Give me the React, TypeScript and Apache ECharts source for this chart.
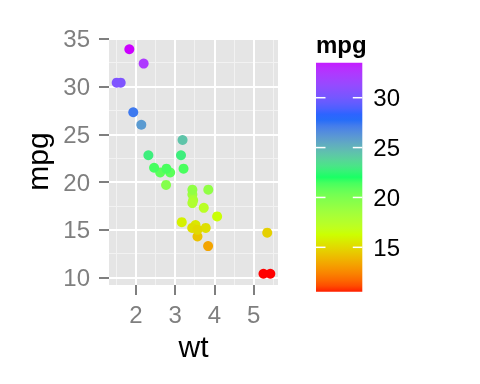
import React, { useEffect, useRef } from 'react';
import * as echarts from 'echarts';

// mtcars: weight (1000 lbs) and miles per gallon
const wt = [2.62, 2.875, 2.32, 3.215, 3.44, 3.46, 3.57, 3.19, 3.15, 3.44, 3.44, 4.07, 3.73, 3.78, 5.25, 5.424, 5.345, 2.2, 1.615, 1.835, 2.465, 3.52, 3.435, 3.84, 3.845, 1.935, 2.14, 1.513, 3.17, 2.77, 3.57, 2.78];
const mpg = [21.0, 21.0, 22.8, 21.4, 18.7, 18.1, 14.3, 24.4, 22.8, 19.2, 17.8, 16.4, 17.3, 15.2, 10.4, 10.4, 14.7, 32.4, 30.4, 33.9, 21.5, 15.5, 15.2, 13.3, 19.2, 27.3, 26.0, 30.4, 15.8, 19.7, 15.0, 21.4];

const xTicks = [2, 3, 4, 5];
const yTicks = [10, 15, 20, 25, 30, 35];
const xMinor = [1.5, 2.5, 3.5, 4.5, 5.5];
const yMinor = [12.5, 17.5, 22.5, 27.5, 32.5];
const legendTicks = [15, 20, 25, 30];
const rainbow5 = ['#FF0000', '#CCFF00', '#00FF66', '#0066FF', '#CC00FF'];

const FONT = '"Liberation Sans", Arial, Helvetica, sans-serif';

// ---- Lab colour interpolation (like scales::gradient_n_pal) ----
const WHITE = [0.95047, 1, 1.08883];
function hexToRgb(h: string) {
  const n = parseInt(h.slice(1), 16);
  return [(n >> 16) & 255, (n >> 8) & 255, n & 255];
}
function toLin(c: number) { c /= 255; return c <= 0.04045 ? c / 12.92 : Math.pow((c + 0.055) / 1.055, 2.4); }
function fromLin(c: number) {
  const v = c <= 0.0031308 ? 12.92 * c : 1.055 * Math.pow(c, 1 / 2.4) - 0.055;
  return Math.max(0, Math.min(255, Math.round(v * 255)));
}
function rgbToLab(rgb: number[]) {
  const [r, g, b] = rgb.map(toLin);
  const X = (0.4124 * r + 0.3576 * g + 0.1805 * b) / WHITE[0];
  const Y = (0.2126 * r + 0.7152 * g + 0.0722 * b) / WHITE[1];
  const Z = (0.0193 * r + 0.1192 * g + 0.9505 * b) / WHITE[2];
  const f = (t: number) => (t > 0.008856 ? Math.cbrt(t) : 7.787 * t + 16 / 116);
  const fx = f(X), fy = f(Y), fz = f(Z);
  return [116 * fy - 16, 500 * (fx - fy), 200 * (fy - fz)];
}
function labToHex(lab: number[]) {
  const fy = (lab[0] + 16) / 116;
  const fx = fy + lab[1] / 500;
  const fz = fy - lab[2] / 200;
  const inv = (f: number) => (f * f * f > 0.008856 ? f * f * f : (f - 16 / 116) / 7.787);
  const X = inv(fx) * WHITE[0], Y = inv(fy) * WHITE[1], Z = inv(fz) * WHITE[2];
  const r = 3.2406 * X - 1.5372 * Y - 0.4986 * Z;
  const g = -0.9689 * X + 1.8758 * Y + 0.0415 * Z;
  const b = 0.0557 * X - 0.204 * Y + 1.057 * Z;
  return '#' + [r, g, b].map((c) => fromLin(c).toString(16).padStart(2, '0')).join('');
}
const paletteLab = rainbow5.map((h) => rgbToLab(hexToRgb(h)));
function colorAtFrac(t: number) {
  t = Math.max(0, Math.min(1, t));
  const seg = Math.min(paletteLab.length - 2, Math.floor(t * (paletteLab.length - 1)));
  const u = t * (paletteLab.length - 1) - seg;
  const a = paletteLab[seg], b = paletteLab[seg + 1];
  return labToHex([0, 1, 2].map((i) => a[i] + (b[i] - a[i]) * u));
}

export default function App() {
  const ref = useRef<HTMLDivElement>(null);
  useEffect(() => {
    if (!ref.current) return;
    const chart = echarts.init(ref.current, undefined, { renderer: 'svg' });

    const mpgMin = Math.min(...mpg), mpgMax = Math.max(...mpg);
    const wtMin = Math.min(...wt), wtMax = Math.max(...wt);
    const xPad = (wtMax - wtMin) * 0.05, yPad = (mpgMax - mpgMin) * 0.05;
    const colorFor = (v: number) => colorAtFrac((v - mpgMin) / (mpgMax - mpgMin));

    const N = 40;
    const inRange = Array.from({ length: N + 1 }, (_, i) => colorAtFrac(i / N));

    const legMin = 10.55, legMax = 33.51;
    const stops = Array.from({ length: N + 1 }, (_, i) => {
      const v = legMax - (i / N) * (legMax - legMin);
      return { offset: i / N, color: colorFor(v) };
    });

    const points = wt.map((w, i) => [w, mpg[i]]);

    const gridLine = (vals: number[], key: 'xAxis' | 'yAxis', color: string, width: number) =>
      vals.map((v) => ({ [key]: v, lineStyle: { color, width, type: 'solid' } }));

    chart.setOption({
      animation: false,
      grid: [
        { left: 109, top: 38, width: 169, height: 247, show: true, backgroundColor: '#E5E5E5', borderWidth: 0, containLabel: false, outerBoundsMode: 'none' },
        { left: 316, top: 62.7, width: 46.3, height: 229, show: false, containLabel: false, outerBoundsMode: 'none' },
      ],
      xAxis: [
        {
          type: 'value', gridIndex: 0, min: wtMin - xPad, max: wtMax + xPad,
          axisLine: { show: false },
          axisTick: { show: true, length: 10, lineStyle: { color: '#7F7F7F', width: 2 }, customValues: xTicks },
          axisLabel: { customValues: xTicks, margin: 17, color: '#7F7F7F', fontSize: 24, fontFamily: FONT },
          splitLine: { show: false },
          name: 'wt', nameLocation: 'middle', nameGap: 46,
          nameTextStyle: { fontSize: 30, color: '#000', fontFamily: FONT },
        },
        { type: 'value', gridIndex: 1, min: 0, max: 1, show: false },
      ],
      yAxis: [
        {
          type: 'value', gridIndex: 0, min: mpgMin - yPad, max: mpgMax + yPad,
          axisLine: { show: false },
          axisTick: { show: true, length: 10, lineStyle: { color: '#7F7F7F', width: 2 }, customValues: yTicks },
          axisLabel: { customValues: yTicks, margin: 19, color: '#7F7F7F', fontSize: 24, fontFamily: FONT },
          splitLine: { show: false },
          name: 'mpg', nameLocation: 'middle', nameGap: 57,
          nameTextStyle: { fontSize: 30, color: '#000', fontFamily: FONT },
        },
        {
          type: 'value', gridIndex: 1, position: 'right', min: legMin, max: legMax, z: 10,
          axisLine: { show: false },
          axisTick: { show: false },
          axisLabel: { customValues: legendTicks, margin: 11, color: '#000', fontSize: 24, fontFamily: FONT },
          splitLine: { show: false },
        },
      ],
      visualMap: {
        type: 'continuous', show: false, seriesIndex: 0, dimension: 1,
        min: mpgMin, max: mpgMax, inRange: { color: inRange },
      },
      graphic: [
        {
          type: 'text', x: 316, y: 44,
          style: { text: 'mpg', fill: '#000', font: `bold 24px ${FONT}`, align: 'left', verticalAlign: 'middle' },
        },
      ],
      series: [
        {
          type: 'scatter', xAxisIndex: 0, yAxisIndex: 0, data: points, symbolSize: 10, z: 5,
          itemStyle: { opacity: 1 },
        },
        {
          type: 'scatter', xAxisIndex: 0, yAxisIndex: 0, data: [], z: 1, silent: true,
          markLine: {
            silent: true, symbol: ['none', 'none'], label: { show: false }, animation: false,
            emphasis: { disabled: true },
            data: [
              ...gridLine(xMinor, 'xAxis', '#F2F2F2', 1),
              ...gridLine(yMinor, 'yAxis', '#F2F2F2', 1),
              ...gridLine(xTicks, 'xAxis', '#FFFFFF', 2),
              ...gridLine(yTicks, 'yAxis', '#FFFFFF', 2),
            ],
          },
        },
        {
          type: 'custom', xAxisIndex: 1, yAxisIndex: 1, data: [[0.5, 20]], z: 2, silent: true,
          renderItem: (_params: any, api: any) => {
            const p0 = api.coord([0, legMax]);
            const p1 = api.coord([1, legMin]);
            const tickLen = 9.5;
            const children: any[] = [
              {
                type: 'rect',
                shape: { x: p0[0], y: p0[1], width: p1[0] - p0[0], height: p1[1] - p0[1] },
                style: { fill: new echarts.graphic.LinearGradient(0, 0, 0, 1, stops) },
              },
            ];
            legendTicks.forEach((v) => {
              const y = api.coord([0, v])[1];
              children.push(
                { type: 'line', shape: { x1: p0[0], y1: y, x2: p0[0] + tickLen, y2: y }, style: { stroke: '#FFFFFF', lineWidth: 1.5 } },
                { type: 'line', shape: { x1: p1[0] - tickLen, y1: y, x2: p1[0], y2: y }, style: { stroke: '#FFFFFF', lineWidth: 1.5 } },
              );
            });
            return { type: 'group', children };
          },
        },
      ],
    });
    return () => chart.dispose();
  }, []);
  return <div ref={ref} style={{ position: 'fixed', left: 0, top: 0, width: 480, height: 384 }} />;
}
